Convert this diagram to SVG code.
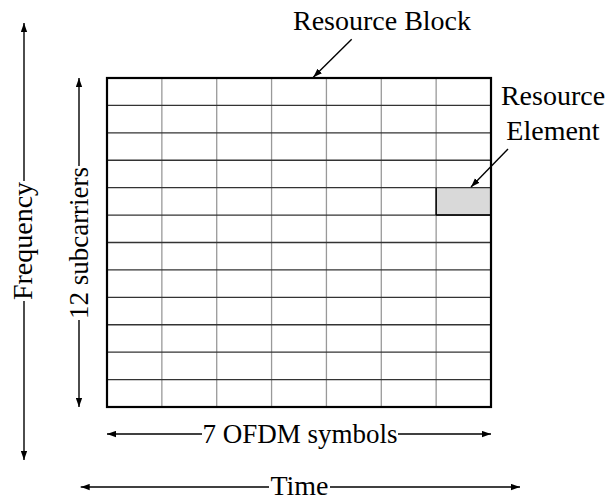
<svg xmlns="http://www.w3.org/2000/svg" width="609" height="500" viewBox="0 0 609 500">
<style>
.t{font-family:"Liberation Serif","Times New Roman",serif;font-size:28px;fill:#000}
.s{font-size:27px}
.ax{stroke:#000;stroke-width:1.4;fill:none}
.hl{stroke:#333;stroke-width:1.3}
.vl{stroke:#999;stroke-width:1.3}
</style>
<defs>
<marker id="ah" viewBox="0 0 10 7" refX="10" refY="3.5" markerUnits="userSpaceOnUse" markerWidth="9" markerHeight="7" orient="auto">
<path d="M0,0 L10,3.5 L0,7 z" fill="#000"/>
</marker>
</defs>
<rect width="609" height="500" fill="#fff"/>
<g id="resource-block">
<rect x="436.14" y="187.67" width="54.86" height="27.42" fill="#d9d9d9"/>
<g class="vl">
<line x1="161.86" y1="78" x2="161.86" y2="407"/>
<line x1="216.71" y1="78" x2="216.71" y2="407"/>
<line x1="271.57" y1="78" x2="271.57" y2="407"/>
<line x1="326.43" y1="78" x2="326.43" y2="407"/>
<line x1="381.29" y1="78" x2="381.29" y2="407"/>
<line x1="436.14" y1="78" x2="436.14" y2="407"/>
</g>
<g class="hl">
<line x1="107" y1="105.42" x2="491" y2="105.42"/>
<line x1="107" y1="132.83" x2="491" y2="132.83"/>
<line x1="107" y1="160.25" x2="491" y2="160.25"/>
<line x1="107" y1="187.67" x2="491" y2="187.67"/>
<line x1="107" y1="215.08" x2="491" y2="215.08"/>
<line x1="107" y1="242.5" x2="491" y2="242.5"/>
<line x1="107" y1="269.92" x2="491" y2="269.92"/>
<line x1="107" y1="297.33" x2="491" y2="297.33"/>
<line x1="107" y1="324.75" x2="491" y2="324.75"/>
<line x1="107" y1="352.17" x2="491" y2="352.17"/>
<line x1="107" y1="379.58" x2="491" y2="379.58"/>
</g>
<line x1="436.14" y1="187.67" x2="436.14" y2="215.08" stroke="#000" stroke-width="1.5"/>
<line x1="436.14" y1="215.08" x2="491" y2="215.08" stroke="#000" stroke-width="1.5"/>
<rect x="107" y="78" width="384" height="329" fill="none" stroke="#000" stroke-width="2.2"/>
</g>
<g id="label-resource-block">
<text class="t" x="382" y="30" text-anchor="middle">Resource Block</text>
</g>
<g id="label-resource-element">
<text class="t" x="553" y="105" text-anchor="middle">Resource</text>
<text class="t" x="553" y="140" text-anchor="middle">Element</text>
</g>
<g id="label-frequency">
<text class="t" transform="translate(32,241) rotate(-90)" text-anchor="middle">Frequency</text>
</g>
<g id="label-subcarriers">
<text class="t s" transform="translate(88,243) rotate(-90)" text-anchor="middle">12 subcarriers</text>
</g>
<g id="label-ofdm">
<text class="t s" x="300" y="443" text-anchor="middle">7 OFDM symbols</text>
</g>
<g id="label-time">
<text class="t" x="299.5" y="495" text-anchor="middle">Time</text>
</g>
<g id="connectors" class="ax">
<line x1="351.7" y1="39.3" x2="313.3" y2="77.3" marker-end="url(#ah)"/>
<line x1="508" y1="149" x2="471" y2="187" marker-end="url(#ah)"/>
<line x1="24" y1="181" x2="24" y2="23" marker-end="url(#ah)"/>
<line x1="24" y1="301" x2="24" y2="460" marker-end="url(#ah)"/>
<line x1="79" y1="166" x2="79" y2="78" marker-end="url(#ah)"/>
<line x1="79" y1="320" x2="79" y2="407" marker-end="url(#ah)"/>
<line x1="202" y1="434" x2="107" y2="434" marker-end="url(#ah)"/>
<line x1="398" y1="434" x2="491" y2="434" marker-end="url(#ah)"/>
<line x1="269" y1="487" x2="80.7" y2="487" marker-end="url(#ah)"/>
<line x1="330" y1="487" x2="520" y2="487" marker-end="url(#ah)"/>
</g>
</svg>
